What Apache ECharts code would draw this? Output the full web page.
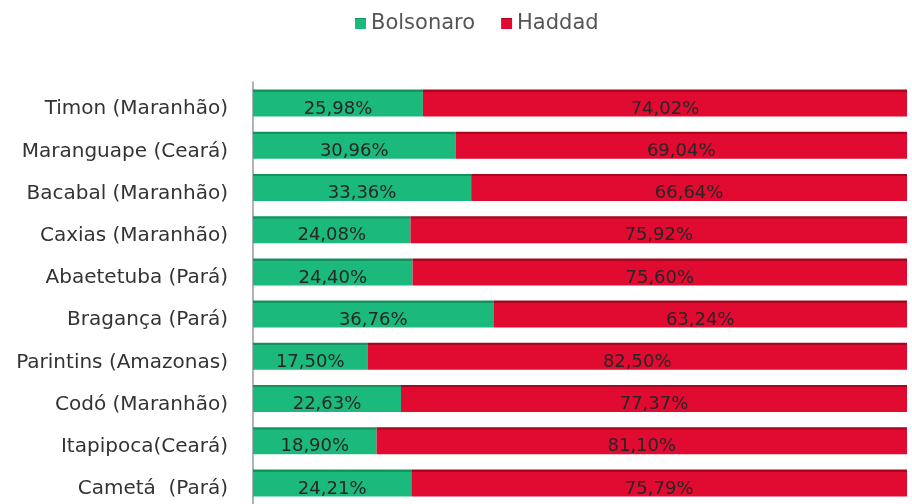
<!DOCTYPE html>
<html><head><meta charset="utf-8">
<script src="https://cdn.jsdelivr.net/npm/echarts@6/dist/echarts.min.js"></script>
<style>html,body{margin:0;padding:0;background:#fff}#c{width:912px;height:504px}</style>
</head><body><div id="c"></div>
<script>
const categories = ["Timon (Maranhão)","Maranguape (Ceará)","Bacabal (Maranhão)","Caxias (Maranhão)","Abaetetuba (Pará)","Bragança (Pará)","Parintins (Amazonas)","Codó (Maranhão)","Itapipoca(Ceará)","Cametá  (Pará)"];
const bolsonaro = [25.98,30.96,33.36,24.08,24.40,36.76,17.50,22.63,18.90,24.21];
const haddad = [74.02,69.04,66.64,75.92,75.60,63.24,82.50,77.37,81.10,75.79];
const FONT = "DejaVu Sans";
const fmt = p => p.value.toFixed(2).replace('.', ',') + '%';
const grad = (dark, main) => new echarts.graphic.LinearGradient(0,0,0,1,[
  {offset:0,color:dark},{offset:0.08,color:dark},{offset:0.09,color:main},{offset:1,color:main}]);
const chart = echarts.init(document.getElementById('c'));
const lbl = {show:true, position:'inside', formatter:fmt, color:'#262626', fontSize:18, fontFamily:FONT, offset:[0,6]};
chart.setOption({
  animation:false,
  legend:{top:8, left:350, itemWidth:11, itemHeight:11, itemGap:26, icon:'rect',
    textStyle:{fontSize:21, color:'#555', fontFamily:FONT}},
  grid:{left:253, right:5, top:82, height:424, containLabel:false},
  xAxis:{type:'value', min:0, max:100, show:false},
  yAxis:{type:'category', data:categories, inverse:true,
    axisLine:{show:true, lineStyle:{color:'#999', width:1.5}},
    axisTick:{show:false},
    axisLabel:{fontSize:20, color:'#333', fontFamily:FONT, margin:25, verticalAlign:'top', lineHeight:12}},
  series:[
    {name:'Bolsonaro', type:'bar', stack:'a', data:bolsonaro, barWidth:27,
     itemStyle:{color:grad('#12925d','#1bb97b')}, label:lbl},
    {name:'Haddad', type:'bar', stack:'a', data:haddad, barWidth:27,
     itemStyle:{color:grad('#a8061f','#e10a31')}, label:lbl}
  ]
});
</script></body></html>
